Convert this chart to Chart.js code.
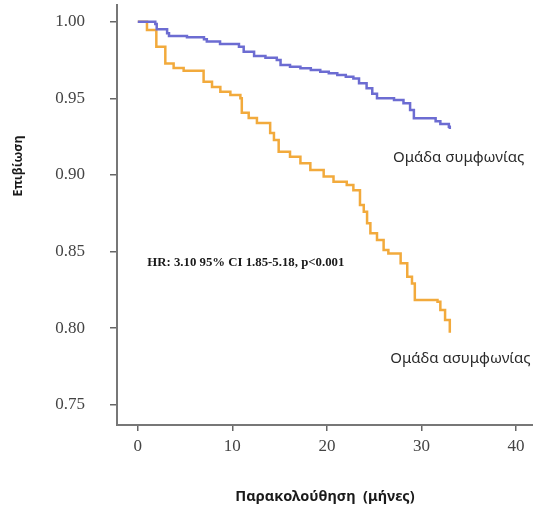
<!DOCTYPE html>
<html>
<head>
<meta charset="utf-8">
<script src="https://cdn.jsdelivr.net/npm/chart.js@4"></script>
<style>
	body { margin: 0; background: #fff; }
	#wrap { width: 533px; height: 510px; }
</style>
</head>
<body>
<div id="wrap"><canvas id="km" width="533" height="510"></canvas></div>
<script>
// Kaplan-Meier steps: [month, survival] where the curve drops at that month
let concordant = [
	[0, 1.0], [1.85, 0.9985], [2.0, 0.995], [3.1, 0.9924], [3.3, 0.9907], [5.2, 0.9898],
	[7.0, 0.9885], [7.3, 0.987], [8.7, 0.9854], [10.7, 0.9837], [11.2, 0.9804], [12.3, 0.9776],
	[13.5, 0.9765], [14.7, 0.975], [15.1, 0.9717], [16.1, 0.9706], [17.2, 0.9696], [18.3, 0.9685],
	[19.3, 0.9674], [20.2, 0.9663], [21.1, 0.9652], [22.0, 0.9641], [22.8, 0.963], [23.4, 0.9598],
	[24.2, 0.9565], [24.8, 0.953], [25.3, 0.950], [27.1, 0.9489], [28.1, 0.9467], [28.8, 0.9424],
	[29.2, 0.937], [31.5, 0.935], [32.0, 0.9332], [32.9, 0.9315], [33.0, 0.930],
];
let discordant = [
	[0, 1.0], [0.97, 0.9946], [1.96, 0.9837], [2.91, 0.9728], [3.79, 0.9698], [4.85, 0.968],
	[6.96, 0.9608], [7.85, 0.9574], [8.73, 0.9543], [9.79, 0.9522], [10.85, 0.950], [11.0, 0.9405],
	[11.73, 0.9371], [12.6, 0.9339], [14.0, 0.9274], [14.4, 0.9228], [14.9, 0.9151], [16.1, 0.9119],
	[17.2, 0.9076], [18.25, 0.9032], [19.66, 0.899], [20.7, 0.8956], [22.1, 0.8934], [22.8, 0.890],
	[23.5, 0.8804], [23.9, 0.876], [24.25, 0.8684], [24.6, 0.862], [25.3, 0.8575], [26.0, 0.851],
	[26.5, 0.8488], [27.8, 0.8423], [28.5, 0.8336], [29.0, 0.8292], [29.3, 0.8183], [31.7, 0.8172],
	[32.0, 0.8118], [32.5, 0.8053], [33.0, 0.797],
];
let xTicks = [0, 10, 20, 30, 40];
let yTicks = [0.75, 0.80, 0.85, 0.90, 0.95, 1.00];
let groupLabels = ['Ομάδα συμφωνίας', 'Ομάδα ασυμφωνίας'];
let statsText = 'HR: 3.10 95% CI 1.85-5.18, p<0.001';
let xTitle = 'Παρακολούθηση  (μήνες)';
let yTitle = 'Επιβίωση';

let toPoints = rows => rows.map(r => ({x: r[0], y: r[1]}));

// text labels placed in data coordinates
let notes = {
	id: 'notes',
	afterDraw(chart) {
		let ctx = chart.ctx;
		let xs = chart.scales.x, ys = chart.scales.y;
		ctx.save();
		ctx.textBaseline = 'middle';
		ctx.textAlign = 'left';
		ctx.fillStyle = '#2a2a2a';
		ctx.font = '15px "Noto Sans"';
		ctx.fillText(groupLabels[0], xs.getPixelForValue(27.0), ys.getPixelForValue(0.911));
		ctx.fillText(groupLabels[1], xs.getPixelForValue(26.7), ys.getPixelForValue(0.780));
		ctx.fillStyle = '#1a1a1a';
		ctx.font = 'bold 12.8px "Liberation Serif"';
		ctx.fillText(statsText, xs.getPixelForValue(1.0), ys.getPixelForValue(0.843));

		ctx.translate(18, 166);
		ctx.rotate(-Math.PI / 2);
		ctx.textAlign = 'center';
		ctx.font = 'bold 12.5px "Noto Sans"';
		ctx.fillStyle = '#1a1a1a';
		ctx.fillText(yTitle, 0, 0);
		ctx.restore();
	}
};

new Chart(document.getElementById('km'), {
	type: 'line',
	data: {
		datasets: [
			{
				data: toPoints(concordant),
				borderColor: '#6c6cd2',
				borderWidth: 2.5,
				stepped: true,
				pointRadius: 0,
				fill: false,
			},
			{
				data: toPoints(discordant),
				borderColor: '#f2aa3c',
				borderWidth: 2.5,
				stepped: true,
				pointRadius: 0,
				fill: false,
			},
		]
	},
	options: {
		responsive: false,
		animation: false,
		layout: {padding: {top: 5, right: 0, left: 0, bottom: 0}},
		plugins: {
			legend: {display: false},
			tooltip: {enabled: false},
		},
		scales: {
			x: {
				type: 'linear',
				min: -2.2,
				max: 41.8,
				afterBuildTicks: axis => { axis.ticks = xTicks.map(v => ({value: v})); },
				afterFit: axis => { axis.height = 85; axis.paddingLeft = 0; axis.paddingRight = 0; },
				grid: {drawOnChartArea: false, drawTicks: true, tickLength: 6, color: '#666', lineWidth: 1.5},
				border: {display: true, color: '#777', width: 2},
				ticks: {
					padding: 5,
					color: '#444',
					font: {family: '"Liberation Serif"', size: 17},
					maxRotation: 0,
				},
				title: {
					display: true,
					text: xTitle,
					color: '#1a1a1a',
					font: {family: '"Noto Sans"', size: 14.5, weight: 'bold'},
					padding: {top: 4, bottom: 4},
				},
			},
			y: {
				type: 'linear',
				min: 0.7368,
				max: 1.0109,
				afterBuildTicks: axis => { axis.ticks = yTicks.map(v => ({value: v})); },
				afterFit: axis => { axis.width = 117; axis.paddingTop = 0; axis.paddingBottom = 0; },
				grid: {drawOnChartArea: false, drawTicks: true, tickLength: 7, color: '#666', lineWidth: 1.5},
				border: {display: true, color: '#777', width: 2},
				ticks: {
					padding: 25,
					color: '#444',
					font: {family: '"Liberation Serif"', size: 17},
					callback: v => v.toFixed(2),
				},
			},
		}
	},
	plugins: [notes],
});
</script>
</body>
</html>
